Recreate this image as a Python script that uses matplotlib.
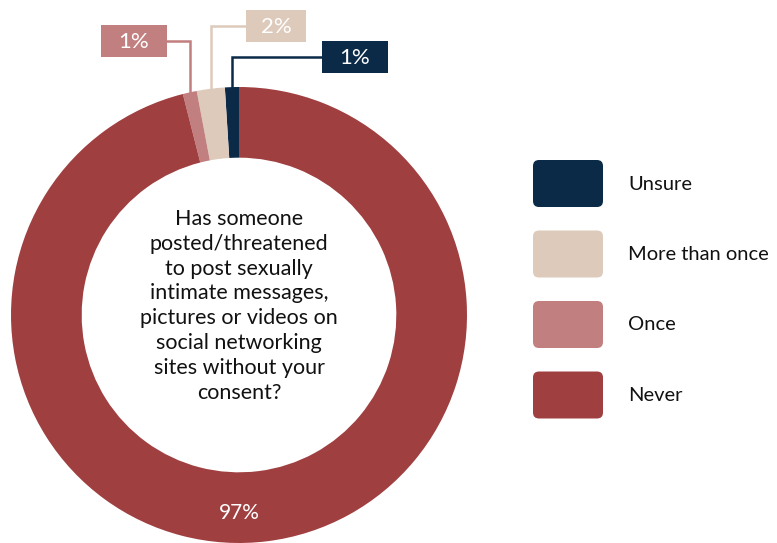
import numpy as np
import matplotlib.pyplot as plt
from matplotlib.patches import FancyBboxPatch, Rectangle

plt.rcParams['font.family'] = ['Lato', 'DejaVu Sans']

labels = ['Unsure', 'More than once', 'Once', 'Never']
values = [1, 2, 1, 97]
colors = ['#0b2a48', '#ddcabb', '#c27f7f', '#a03f40']
question = ('Has someone\nposted/threatened\nto post sexually\nintimate messages,\n'
            'pictures or videos on\nsocial networking\nsites without your\nconsent?')

W, H = 777, 543
cx, cy, R = 239, 315, 228
ring = 0.31

fig = plt.figure(figsize=(W / 100, H / 100), dpi=100)

# donut
ax = fig.add_axes([(cx - R) / W, (H - cy - R) / H, 2 * R / W, 2 * R / H])
wedges, _ = ax.pie(values, colors=colors, startangle=90, counterclock=True,
                   radius=1, wedgeprops=dict(width=ring, linewidth=0))
ax.set_xlim(-1, 1)
ax.set_ylim(-1, 1)
ax.set_aspect('equal')
ax.axis('off')

ax.text(0, 0.04, question, ha='center', va='center', fontsize=15.5,
        linespacing=1.3, color='#111111')

# overlay in pixel coordinates for callouts and legend
ov = fig.add_axes([0, 0, 1, 1], zorder=5)
ov.set_xlim(0, W)
ov.set_ylim(H, 0)
ov.axis('off')


def ring_point(angle, r):
    a = np.deg2rad(angle)
    return cx + R * r * np.cos(a), cy - R * r * np.sin(a)


def mid_angle(w):
    return (w.theta1 + w.theta2) / 2


# value label for the big slice, at the bottom of the ring
px, py = ring_point(-90, 0.868)
ov.text(px, py, f'{values[3]}%', ha='center', va='center', color='white', fontsize=15)

# callout boxes for the small slices: (x, y, w, h) and side of the connector
boxes = {0: (322, 41, 66, 32, 'left'),
         1: (246, 10, 60, 32, 'left'),
         2: (101, 25, 66, 32, 'right')}
for i, (bx, by, bw, bh, side) in boxes.items():
    sx, sy = ring_point(mid_angle(wedges[i]), 1.0)
    my = by + bh / 2
    ex = bx if side == 'left' else bx + bw
    ov.plot([sx, sx, ex], [sy, my, my], color=colors[i], lw=1.8,
            solid_joinstyle='miter')
    ov.add_patch(Rectangle((bx, by), bw, bh, facecolor=colors[i], edgecolor='none'))
    ov.text(bx + bw / 2, my + 1, f'{values[i]}%', ha='center', va='center',
            color='white', fontsize=16)

# legend
for k, (lab, col) in enumerate(zip(labels, colors)):
    y0 = 160 + k * 70.5
    ov.add_patch(FancyBboxPatch((533 + 6, y0 + 6), 70 - 12, 47 - 12,
                                boxstyle='round,pad=6', facecolor=col,
                                edgecolor='none'))
    ov.text(628, y0 + 24, lab, ha='left', va='center', fontsize=14.5,
            color='#111111')

fig.savefig('out.png', dpi=100)
